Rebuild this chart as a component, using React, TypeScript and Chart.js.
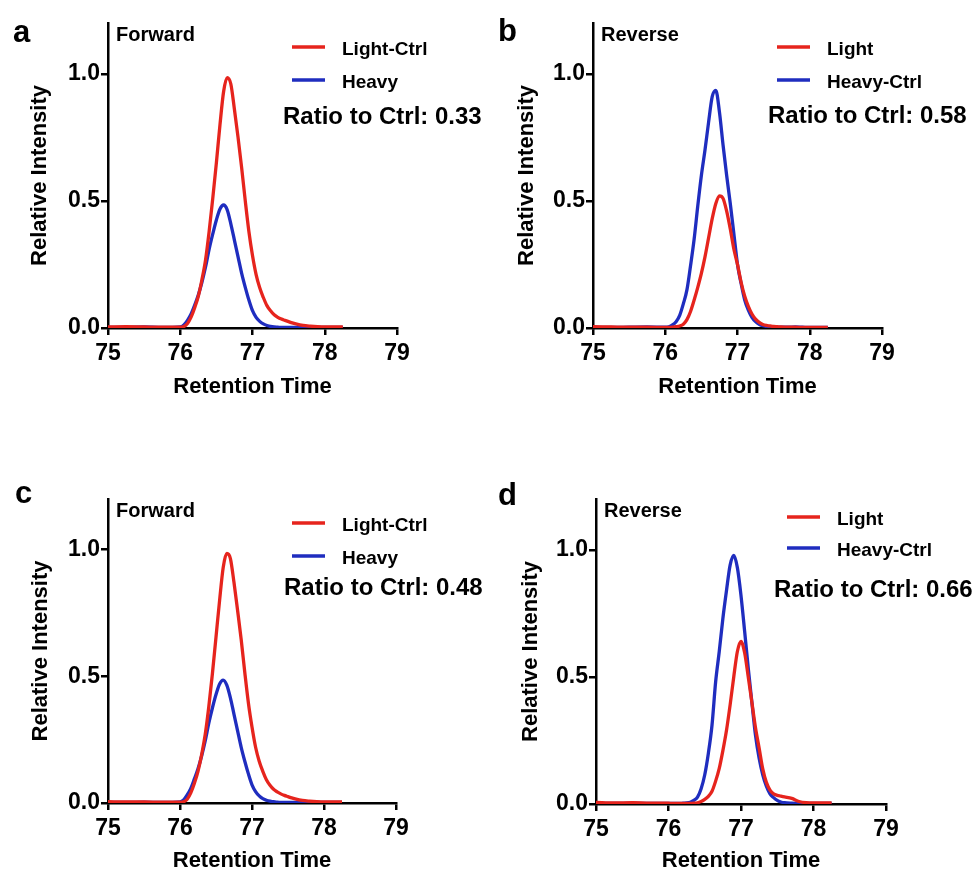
import React, { useEffect, useRef } from 'react';
import { Chart, registerables } from 'chart.js';

Chart.register(...registerables);

const FONT = "'Liberation Sans', Arial, Helvetica, sans-serif";

// Retention times (min) shared by all traces
const TIMES = [
  75.0, 75.25, 75.5, 75.75,
  76.0, 76.05, 76.1, 76.15, 76.2, 76.25, 76.3, 76.35, 76.4, 76.45, 76.5, 76.55,
  76.6, 76.65, 76.7, 76.75, 76.8, 76.85, 76.9, 76.95, 77.0, 77.05, 77.1, 77.15,
  77.2, 77.25, 77.3, 77.35, 77.4, 77.45, 77.5, 77.55, 77.6,
  77.7, 77.8, 77.9, 78.0, 78.25,
];

// Panel a (Forward)
const A_LIGHT_CTRL = [
  0.004, 0.005, 0.004, 0.003,
  0.003, 0.006, 0.018, 0.043, 0.08, 0.125, 0.19, 0.268, 0.38, 0.51, 0.65, 0.8,
  0.93, 0.985, 0.96, 0.86, 0.75, 0.63, 0.5, 0.38, 0.285, 0.21, 0.158, 0.12,
  0.088, 0.068, 0.052, 0.042, 0.035, 0.03, 0.025, 0.02, 0.016,
  0.01, 0.007, 0.005, 0.004, 0.004,
];
const A_HEAVY = [
  0.002, 0.002, 0.004, 0.002,
  0.004, 0.012, 0.03, 0.055, 0.09, 0.13, 0.18, 0.24, 0.31, 0.37, 0.425, 0.468,
  0.484, 0.465, 0.41, 0.345, 0.28, 0.215, 0.16, 0.11, 0.068, 0.042, 0.026, 0.016,
  0.01, 0.006, 0.004, 0.003, 0.002, 0.002, 0.002, 0.002, 0.002,
  0.002, 0.002, 0.002, 0.002, 0.002,
];

// Panel b (Reverse)
const B_LIGHT = [
  0.005, 0.004, 0.003, 0.003,
  0.002, 0.002, 0.003, 0.005, 0.008, 0.015, 0.033, 0.065, 0.11, 0.16, 0.215, 0.28,
  0.355, 0.43, 0.49, 0.52, 0.51, 0.46, 0.39, 0.31, 0.25, 0.18, 0.125, 0.085,
  0.055, 0.035, 0.022, 0.014, 0.01, 0.008, 0.006, 0.005, 0.004,
  0.003, 0.003, 0.002, 0.002, 0.002,
];
const B_HEAVY_CTRL = [
  0.003, 0.002, 0.003, 0.004,
  0.003, 0.005, 0.012, 0.025, 0.05, 0.095, 0.15, 0.245, 0.35, 0.48, 0.6, 0.7,
  0.81, 0.91, 0.935, 0.85, 0.72, 0.6, 0.49, 0.37, 0.25, 0.175, 0.11, 0.07,
  0.042, 0.025, 0.015, 0.009, 0.006, 0.004, 0.003, 0.003, 0.003,
  0.003, 0.004, 0.003, 0.002, 0.002,
];

// Panel c (Forward)
const C_LIGHT_CTRL = [
  0.005, 0.004, 0.004, 0.003,
  0.003, 0.005, 0.015, 0.04, 0.078, 0.125, 0.19, 0.27, 0.38, 0.51, 0.655, 0.8,
  0.93, 0.985, 0.965, 0.87, 0.76, 0.645, 0.515, 0.395, 0.3, 0.22, 0.165, 0.125,
  0.092, 0.07, 0.054, 0.044, 0.036, 0.03, 0.025, 0.02, 0.016,
  0.01, 0.007, 0.005, 0.004, 0.004,
];
const C_HEAVY = [
  0.002, 0.002, 0.003, 0.002,
  0.004, 0.012, 0.032, 0.058, 0.095, 0.135, 0.185, 0.245, 0.315, 0.375, 0.428, 0.47,
  0.485, 0.465, 0.415, 0.35, 0.285, 0.22, 0.165, 0.115, 0.072, 0.045, 0.028, 0.017,
  0.011, 0.007, 0.005, 0.003, 0.002, 0.002, 0.002, 0.002, 0.002,
  0.002, 0.002, 0.002, 0.002, 0.002,
];

// Panel d (Reverse)
const D_LIGHT = [
  0.006, 0.004, 0.005, 0.003,
  0.003, 0.002, 0.002, 0.002, 0.002, 0.002, 0.002, 0.003, 0.005, 0.01, 0.018, 0.03,
  0.05, 0.09, 0.14, 0.21, 0.29, 0.39, 0.5, 0.6, 0.64, 0.595, 0.5, 0.4,
  0.3, 0.22, 0.138, 0.085, 0.055, 0.04, 0.034, 0.031, 0.028,
  0.022, 0.01, 0.005, 0.004, 0.004,
];
const D_HEAVY_CTRL = [
  0.002, 0.002, 0.003, 0.002,
  0.002, 0.002, 0.002, 0.002, 0.003, 0.004, 0.007, 0.014, 0.027, 0.06, 0.115, 0.2,
  0.31, 0.48, 0.6, 0.73, 0.84, 0.94, 0.978, 0.93, 0.82, 0.68, 0.534, 0.4,
  0.27, 0.18, 0.115, 0.07, 0.04, 0.025, 0.014, 0.008, 0.005,
  0.003, 0.002, 0.002, 0.002, 0.002,
];

const X_TICKS = [75, 76, 77, 78, 79];
const Y_TICKS = [0, 0.5, 1.0];
const X_MIN = 75;
const X_MAX = 79;
const Y_MIN = 0;
const Y_MAX = 1.2;

const X_TITLE = 'Retention Time';
const Y_TITLE = 'Relative Intensity';

const PANEL_LETTERS = ['a', 'b', 'c', 'd'];
const DIRECTIONS = ['Forward', 'Reverse', 'Forward', 'Reverse'];
const RATIOS = ['0.33', '0.58', '0.48', '0.66'];
const RED_LABELS = ['Light-Ctrl', 'Light', 'Light-Ctrl', 'Light'];
const BLUE_LABELS = ['Heavy', 'Heavy-Ctrl', 'Heavy', 'Heavy-Ctrl'];
const RED_SERIES = [A_LIGHT_CTRL, B_LIGHT, C_LIGHT_CTRL, D_LIGHT];
const BLUE_SERIES = [A_HEAVY, B_HEAVY_CTRL, C_HEAVY, D_HEAVY_CTRL];

const RED = '#e6241d';
const BLUE = '#1f2dbf';

// Layout of each panel (positions only)
const LAYOUTS = [
  { left: 0, top: 0, w: 487, h: 430, ca: { l: 108, r: 397, t: 23, b: 328 }, letter: { x: 13, y: 42 }, legX: 184, legY0: 24, legGap: 33, ratioX: 175, ratioY: 101, yTitleX: 40, xTitleY: 386.5 },
  { left: 487, top: 0, w: 487, h: 430, ca: { l: 106, r: 395, t: 23, b: 328 }, letter: { x: 11, y: 41 }, legX: 184, legY0: 24, legGap: 33, ratioX: 175, ratioY: 100, yTitleX: 39.5, xTitleY: 386.5 },
  { left: 0, top: 460, w: 487, h: 411, ca: { l: 108, r: 396, t: 39, b: 343 }, letter: { x: 15, y: 43 }, legX: 184, legY0: 24, legGap: 33, ratioX: 176, ratioY: 96, yTitleX: 41, xTitleY: 400.5 },
  { left: 487, top: 460, w: 487, h: 411, ca: { l: 109, r: 399, t: 39, b: 344 }, letter: { x: 11, y: 45 }, legX: 191, legY0: 18, legGap: 31, ratioX: 178, ratioY: 98, yTitleX: 44, xTitleY: 400.5 },
];

const decorPlugin = {
  id: 'panelDecor',
  afterDraw(chart: any, _args: any, opts: any) {
    const { ctx, chartArea } = chart;
    const L = chartArea.left;
    const T = chartArea.top;
    ctx.save();
    ctx.fillStyle = '#000';
    ctx.textAlign = 'left';
    ctx.textBaseline = 'alphabetic';
    ctx.font = `bold 31px ${FONT}`;
    ctx.fillText(opts.letter, opts.letterX, opts.letterY);
    ctx.font = `bold 20px ${FONT}`;
    ctx.fillText(opts.direction, L + 8, T + 18);
    chart.data.datasets.forEach((ds: any, i: number) => {
      const y = T + opts.legY0 + i * opts.legGap;
      ctx.strokeStyle = ds.borderColor;
      ctx.lineWidth = 3.3;
      ctx.lineCap = 'butt';
      ctx.beginPath();
      ctx.moveTo(L + opts.legX, y);
      ctx.lineTo(L + opts.legX + 33, y);
      ctx.stroke();
      ctx.font = `bold 19px ${FONT}`;
      ctx.fillText(ds.label, L + opts.legX + 50, y + 7.5);
    });
    ctx.font = `bold 24px ${FONT}`;
    ctx.fillText(`Ratio to Ctrl: ${opts.ratio}`, L + opts.ratioX, T + opts.ratioY);
    ctx.restore();
  },
};

function Panel({ index }: { index: number }) {
  const ref = useRef<HTMLCanvasElement | null>(null);
  const lay = LAYOUTS[index];

  useEffect(() => {
    if (!ref.current) return;
    const toPoints = (vals: number[]) => TIMES.map((t, i) => ({ x: t, y: vals[i] }));
    const tickFont = { family: FONT, size: 23, weight: 'bold' as const, lineHeight: 1 };
    const titleFont = { family: FONT, size: 22, weight: 'bold' as const, lineHeight: 1 };
    const chart = new Chart(ref.current, {
      type: 'line',
      data: {
        datasets: [
          {
            label: RED_LABELS[index],
            data: toPoints(RED_SERIES[index]),
            borderColor: RED,
            backgroundColor: RED,
            borderWidth: 3.3,
            pointRadius: 0,
            cubicInterpolationMode: 'monotone',
            fill: false,
          },
          {
            label: BLUE_LABELS[index],
            data: toPoints(BLUE_SERIES[index]),
            borderColor: BLUE,
            backgroundColor: BLUE,
            borderWidth: 3.3,
            pointRadius: 0,
            cubicInterpolationMode: 'monotone',
            fill: false,
          },
        ],
      },
      options: {
        animation: false,
        responsive: false,
        devicePixelRatio: 1,
        events: [],
        layout: {
          padding: { left: 0, top: lay.ca.t, right: lay.w - lay.ca.r, bottom: 0 },
        },
        plugins: {
          legend: { display: false },
          tooltip: { enabled: false },
          title: { display: false },
          panelDecor: {
            letter: PANEL_LETTERS[index],
            letterX: lay.letter.x,
            letterY: lay.letter.y,
            direction: DIRECTIONS[index],
            ratio: RATIOS[index],
            legX: lay.legX,
            legY0: lay.legY0,
            legGap: lay.legGap,
            ratioX: lay.ratioX,
            ratioY: lay.ratioY,
          },
        } as any,
        scales: {
          x: {
            type: 'linear',
            min: X_MIN,
            max: X_MAX,
            afterFit: (s: any) => { s.height = lay.h - lay.ca.b; },
            afterBuildTicks: (s: any) => { s.ticks = X_TICKS.map((v) => ({ value: v })); },
            border: { display: true, color: '#000', width: 2.5 },
            grid: { display: true, drawOnChartArea: false, drawTicks: true, tickLength: 7, color: '#000', lineWidth: 2.5 },
            ticks: {
              color: '#000',
              font: tickFont,
              padding: 7,
              maxRotation: 0,
              autoSkip: false,
              callback: (v: any) => String(v),
            },
            title: {
              display: true,
              text: X_TITLE,
              color: '#000',
              font: titleFont,
              padding: { top: 0, bottom: lay.h - lay.xTitleY - 11 },
            },
          },
          y: {
            type: 'linear',
            min: Y_MIN,
            max: Y_MAX,
            afterFit: (s: any) => { s.width = lay.ca.l; },
            afterBuildTicks: (s: any) => { s.ticks = Y_TICKS.map((v) => ({ value: v })); },
            border: { display: true, color: '#000', width: 2.5 },
            grid: { display: true, drawOnChartArea: false, drawTicks: true, tickLength: 7, color: '#000', lineWidth: 2.5 },
            ticks: {
              color: '#000',
              font: tickFont,
              padding: 1,
              autoSkip: false,
              callback: (v: any) => Number(v).toFixed(1),
            },
            title: {
              display: true,
              text: Y_TITLE,
              color: '#000',
              font: titleFont,
              padding: { top: lay.yTitleX - 11, bottom: 0 },
            },
          },
        },
      },
      plugins: [decorPlugin as any],
    } as any);
    return () => chart.destroy();
  }, [index]);

  return (
    <canvas
      ref={ref}
      width={lay.w}
      height={lay.h}
      style={{ position: 'absolute', left: lay.left, top: lay.top, width: lay.w, height: lay.h }}
    />
  );
}

export default function App() {
  return (
    <div style={{ position: 'absolute', left: 0, top: 0, width: 974, height: 871, background: '#fff' }}>
      {[0, 1, 2, 3].map((i) => (
        <Panel key={i} index={i} />
      ))}
    </div>
  );
}
